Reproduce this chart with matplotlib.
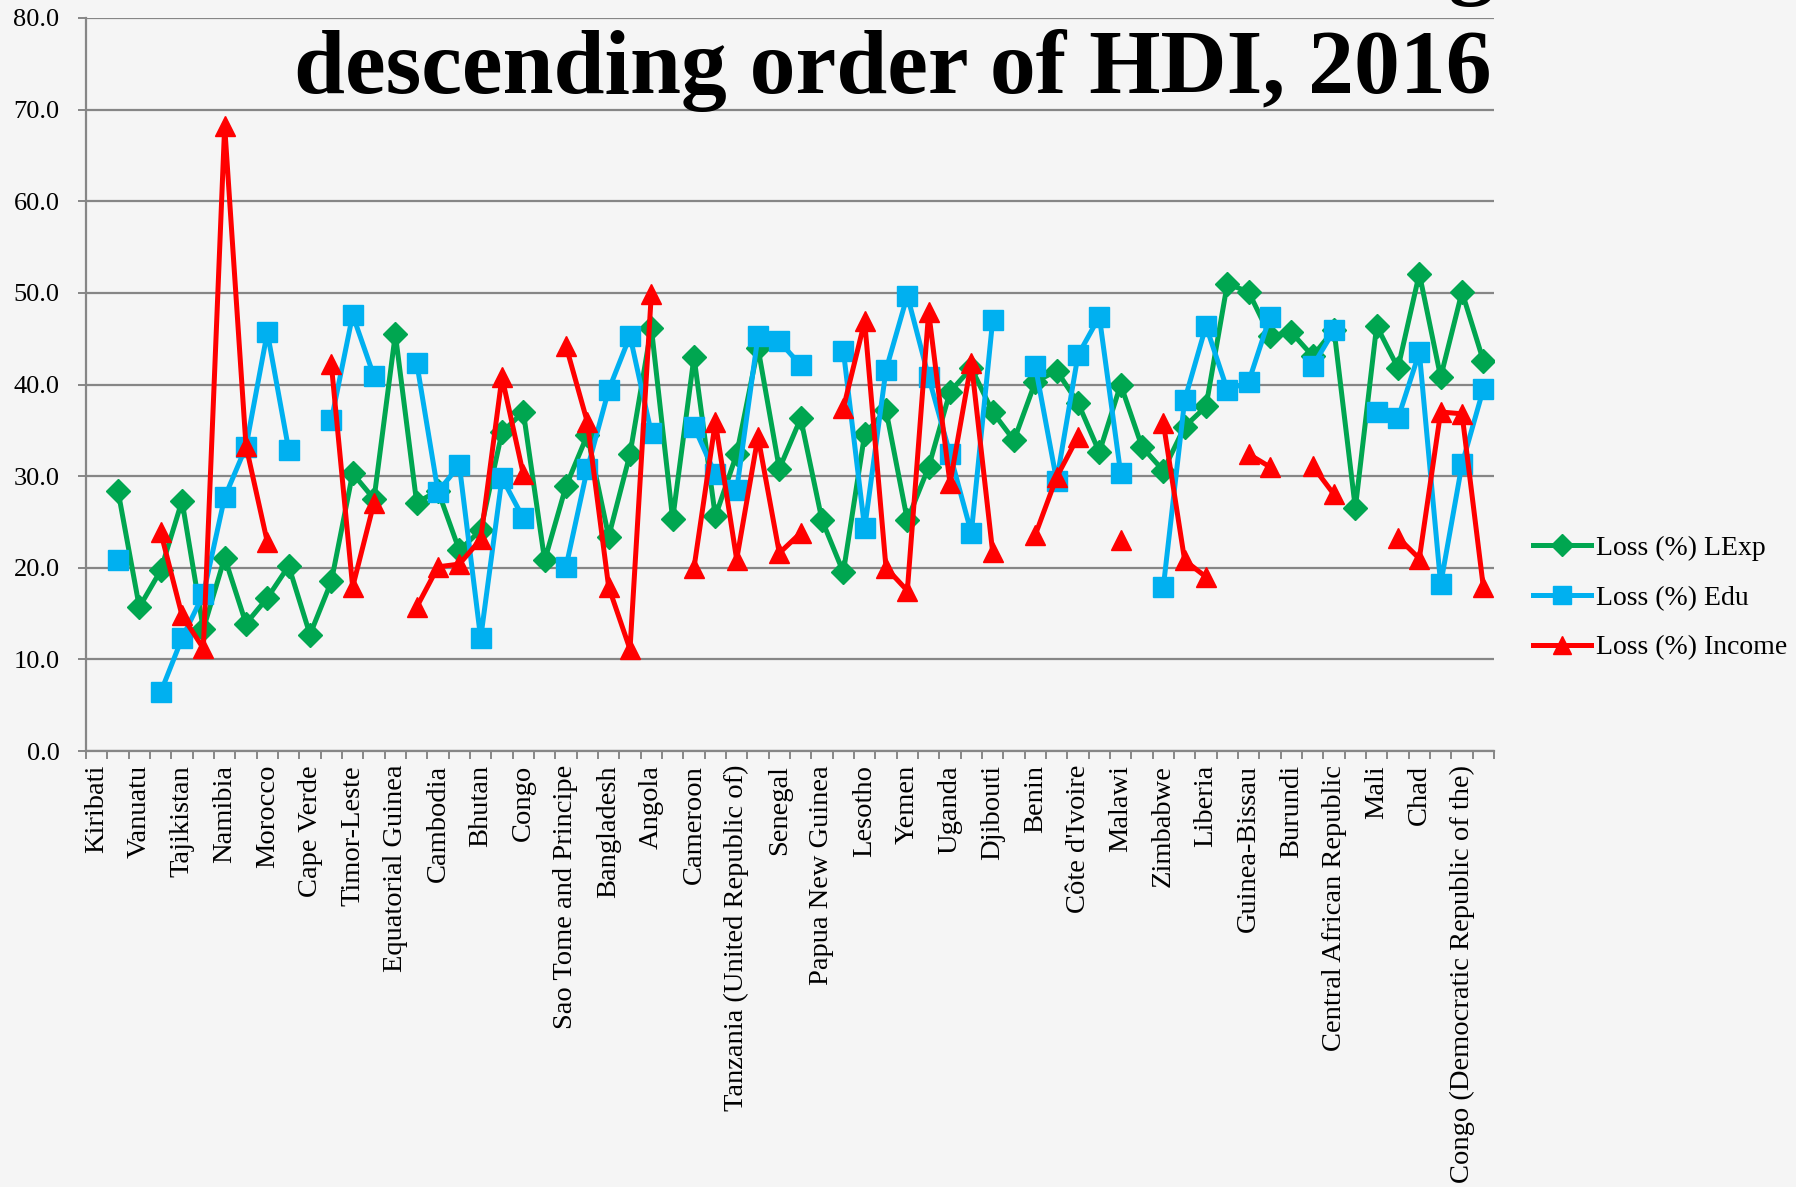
import numpy as np
import matplotlib
matplotlib.use("Agg")
import matplotlib.pyplot as plt
from matplotlib.ticker import FixedLocator

nan = np.nan

# 66 countries, only every other one gets a label on the axis
countries = [
    "Kiribati", "Solomon Islands", "Vanuatu", "Nicaragua", "Tajikistan", "Guatemala",
    "Namibia", "Honduras", "Morocco", "India", "Cape Verde", "Ghana",
    "Timor-Leste", "Lao People's Democratic Republic", "Equatorial Guinea", "Zambia",
    "Cambodia", "Myanmar", "Bhutan", "Nepal", "Congo", "Kenya",
    "Sao Tome and Principe", "Pakistan", "Bangladesh", "Swaziland", "Angola",
    "Syrian Arab Republic", "Cameroon", "Mauritania", "Tanzania (United Republic of)",
    "Madagascar", "Senegal", "Nigeria", "Papua New Guinea", "Comoros", "Lesotho",
    "Rwanda", "Yemen", "Haiti", "Uganda", "Togo", "Djibouti", "Sudan", "Benin",
    "Afghanistan", "Côte d'Ivoire", "Ethiopia", "Malawi", "Gambia", "Zimbabwe",
    "Guinea", "Liberia", "Mozambique", "Guinea-Bissau", "Eritrea", "Burundi",
    "Sierra Leone", "Central African Republic", "Burkina Faso", "Mali",
    "South Sudan", "Chad", "Niger", "Congo (Democratic Republic of the)", "Somalia",
]

loss_lexp = [
    nan, 28.4, 15.7, 19.7, 27.3, 13.3, 21.1, 13.9, 16.7, 20.2, 12.7, 18.5,
    30.3, 27.5, 45.5, 27.1, 28.4, 21.9, 24.1, 34.8, 37.0, 20.8, 28.9, 34.5,
    23.4, 32.4, 46.2, 25.3, 43.0, 25.6, 32.4, 44.0, 30.8, 36.3, 25.2, 19.5,
    34.6, 37.2, 25.2, 31.0, 39.2, 41.8, 37.0, 33.9, 40.3, 41.5, 38.0, 32.6,
    40.0, 33.2, 30.6, 35.4, 37.6, 51.0, 50.1, 45.3, 45.7, 43.1, 46.0, 26.5,
    46.4, 41.8, 52.1, 40.8, 50.1, 42.6,
]

loss_edu = [
    nan, 20.8, nan, 6.4, 12.3, 17.1, 27.7, 33.2, 45.7, 32.9, nan, 36.1,
    47.6, 40.9, nan, 42.4, 28.3, 31.2, 12.3, 29.8, 25.4, nan, 20.1, 30.8,
    39.4, 45.3, 34.7, nan, 35.4, 30.2, 28.5, 45.3, 44.7, 42.1, nan, 43.7,
    24.3, 41.6, 49.7, 40.8, 32.4, 23.8, 47.0, nan, 42.0, 29.5, 43.2, 47.4,
    30.3, nan, 17.9, 38.3, 46.4, 39.4, 40.3, 47.4, nan, 42.0, 45.9, nan,
    37.0, 36.3, 43.5, 18.2, 31.3, 39.5,
]

loss_income = [
    nan, nan, nan, 23.9, 14.8, 11.2, 68.2, 33.3, 22.8, nan, nan, 42.2,
    17.9, 27.1, nan, 15.7, 20.1, 20.4, 23.1, 40.8, 30.2, nan, 44.2, 35.9,
    17.9, 11.1, 49.9, nan, 20.0, 35.9, 20.9, 34.3, 21.6, 23.8, nan, 37.4,
    46.9, 20.0, 17.5, 47.9, 29.2, 42.4, 21.7, nan, 23.6, 29.9, 34.3, nan,
    23.0, nan, 35.8, 20.8, 19.0, nan, 32.4, 31.0, nan, 31.1, 28.0, nan,
    nan, 23.3, 21.0, 37.0, 36.8, 17.9,
]

bg = "#f5f5f5"
grid_col = "#868686"
serif = ["Liberation Serif", "DejaVu Serif"]

fig = plt.figure(figsize=(17.96, 11.87), dpi=100, facecolor=bg)
ax = fig.add_axes([86 / 1796, 1 - 751 / 1187, (1494 - 86) / 1796, (751 - 18) / 1187])
ax.set_facecolor(bg)

x = np.arange(len(countries))
ax.plot(x, loss_lexp, color="#00a650", lw=3.6, marker="D", ms=12,
        label="Loss (%) LExp", zorder=3)
ax.plot(x, loss_edu, color="#00b0f0", lw=3.6, marker="s", ms=14,
        label="Loss (%) Edu", zorder=4)
ax.plot(x, loss_income, color="#ff0000", lw=3.6, marker="^", ms=15,
        label="Loss (%) Income", zorder=5)

ax.set_xlim(-0.5, len(countries) - 0.5)
ax.set_ylim(0, 80)
ax.set_yticks(np.arange(0, 81, 10))
ax.set_yticklabels([f"{v:.1f}" for v in np.arange(0, 81, 10)], family=serif, fontsize=19)
ax.yaxis.grid(True, color=grid_col, lw=1.6)
ax.set_axisbelow(True)

ax.set_xticks(x[::2])
ax.set_xticklabels(countries[::2], rotation=90, family=serif, fontsize=20.5,
                   ha="center", va="top")
ax.xaxis.set_minor_locator(FixedLocator(np.arange(-0.5, len(countries), 1)))
ax.tick_params(axis="x", which="major", length=0, pad=10)
ax.tick_params(axis="x", which="minor", length=6, width=1.4, color=grid_col, direction="out")
ax.tick_params(axis="y", length=6, width=1.4, color=grid_col, pad=13)

for side in ["top", "right"]:
    ax.spines[side].set_visible(False)
for side in ["left", "bottom"]:
    ax.spines[side].set_color(grid_col)
    ax.spines[side].set_linewidth(1.6)

leg = fig.legend(loc="center left", bbox_to_anchor=(1508 / 1796, 1 - 598 / 1187),
                 frameon=False, prop={"family": serif, "size": 20},
                 handlelength=2.1, handletextpad=0.15, labelspacing=0.88,
                 markerscale=0.9)

# title, the top line is cut off by the top edge in the original
fig.text(1492 / 1796, 1 - 93 / 1187, "descending order of HDI, 2016",
         ha="right", va="baseline", family=serif, fontweight="bold", fontsize=66)
fig.text(1494 / 1796, 1 + 12 / 1187, "Losses in HDI dimensions in countries following",
         ha="right", va="baseline", family=serif, fontweight="bold", fontsize=66)

fig.savefig("out.png", dpi=100, facecolor=bg)
